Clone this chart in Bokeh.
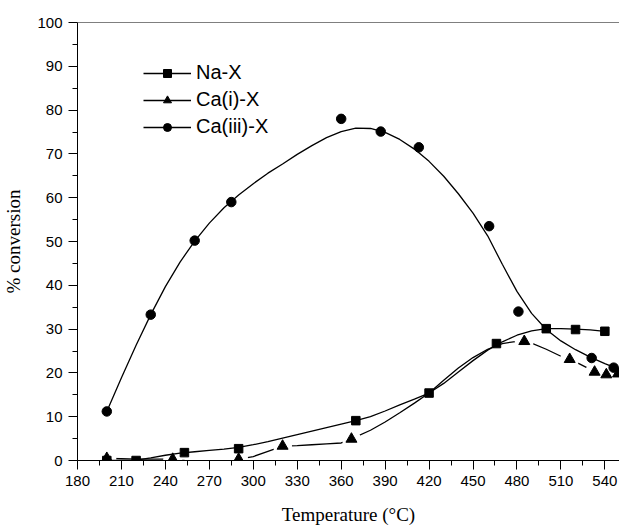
from bokeh.plotting import figure
from bokeh.models import Legend, LegendItem, Span, FixedTicker
from bokeh.embed import file_html
from bokeh.resources import INLINE

# ---- measured data points ----
temp_na = [200, 220, 253, 290, 370, 420, 466, 500, 520, 540]
conv_na = [0.0, 0.0, 1.8, 2.7, 9.1, 15.4, 26.7, 30.1, 29.9, 29.5]

temp_ca1 = [200, 245, 290, 320, 367, 485, 516, 533, 541, 549]
conv_ca1 = [0.5, 0.3, 0.3, 3.3, 4.9, 27.2, 23.1, 20.2, 19.6, 19.8]

temp_ca3 = [200, 230, 260, 285, 360, 387, 413, 461, 481, 531, 546]
conv_ca3 = [11.2, 33.3, 50.2, 59.0, 78.0, 75.1, 71.5, 53.5, 34.0, 23.4, 21.2]

# ---- smoothed curves ----
curve_na_x = [200, 210, 220, 230, 240, 250, 260, 270, 280, 290, 300, 310, 320, 330, 340, 350,
              360, 370, 380, 390, 400, 410, 420, 430, 440, 450, 460, 470, 480, 490, 500, 510,
              520, 530, 540]
curve_na_y = [0.0, 0.0, 0.1, 0.6, 1.2, 1.7, 2.0, 2.3, 2.6, 3.0, 3.6, 4.3, 5.1, 5.9, 6.7, 7.5,
              8.3, 9.1, 10.0, 11.3, 12.7, 14.0, 15.4, 17.6, 20.2, 22.8, 25.2, 27.1, 28.6, 29.6,
              30.1, 30.1, 30.0, 29.8, 29.5]

curve_ca1_x = [200, 210, 220, 230, 240, 245, 250, 260, 270, 280, 290, 300, 310, 320, 330, 340,
               350, 360, 367, 370, 380, 390, 400, 410, 420, 430, 440, 450, 460, 470, 480, 485,
               490, 500, 510, 516, 520, 530, 533, 540, 549]
curve_ca1_y = [0.5, 0.4, 0.3, 0.3, 0.3, 0.3, 0.1, -0.2, -0.4, -0.4, 0.3, 0.9, 2.1, 3.3, 3.4,
               3.6, 3.8, 4.0, 4.9, 5.4, 6.9, 8.8, 10.9, 13.1, 15.4, 18.3, 21.1, 23.5, 25.4,
               26.7, 27.2, 27.2, 26.8, 25.4, 23.8, 23.1, 22.5, 20.8, 20.2, 19.6, 19.8]

curve_ca3_x = [200, 210, 220, 230, 240, 250, 260, 270, 280, 290, 300, 310, 320, 330, 340, 350,
               360, 370, 380, 390, 400, 410, 420, 430, 440, 450, 460, 470, 480, 490, 500, 510,
               520, 530, 540, 550]
curve_ca3_y = [11.2, 18.9, 26.3, 33.3, 39.7, 45.3, 50.1, 54.2, 57.7, 60.6, 63.2, 65.6, 67.7,
               69.9, 71.9, 73.7, 75.1, 75.9, 75.8, 74.9, 73.3, 71.1, 68.3, 64.9, 60.9, 56.5,
               51.3, 44.8, 38.6, 33.6, 29.9, 27.3, 25.3, 23.6, 22.1, 20.8]

x_ticks = [180, 210, 240, 270, 300, 330, 360, 390, 420, 450, 480, 510, 540]
x_minor = [195, 225, 255, 285, 315, 345, 375, 405, 435, 465, 495, 525]
y_ticks = [0, 10, 20, 30, 40, 50, 60, 70, 80, 90, 100]
y_minor = [5, 15, 25, 35, 45, 55, 65, 75, 85, 95]

p = figure(width=619, height=528, x_range=(180, 550), y_range=(0, 100),
           output_backend="svg", toolbar_location=None,
           min_border_left=76, min_border_right=0, min_border_top=22, min_border_bottom=68)
p.grid.visible = False
p.outline_line_color = None
p.background_fill_color = "white"
p.border_fill_color = "white"

for ax in (p.xaxis[0], p.yaxis[0]):
    ax.major_tick_in = 0
    ax.major_tick_out = 9
    ax.minor_tick_in = 0
    ax.minor_tick_out = 5
    ax.axis_line_color = "black"
    ax.major_tick_line_color = "black"
    ax.minor_tick_line_color = "black"
    ax.major_label_text_font = "Liberation Sans"
    ax.major_label_text_font_size = "15px"
    ax.major_label_text_color = "black"
    ax.axis_label_text_font = "Liberation Serif"
    ax.axis_label_text_font_size = "19px"
    ax.axis_label_text_font_style = "normal"
    ax.axis_label_text_color = "black"

p.xaxis.ticker = FixedTicker(ticks=x_ticks, minor_ticks=x_minor)
p.yaxis.ticker = FixedTicker(ticks=y_ticks, minor_ticks=y_minor)
p.xaxis.axis_label = "Temperature (°C)"
p.yaxis.axis_label = "% conversion"
p.xaxis.major_label_standoff = 6
p.yaxis.major_label_standoff = 6
p.xaxis.axis_label_standoff = 15
p.yaxis.axis_label_standoff = 10

p.add_layout(Span(location=100, dimension="width", line_color="black", line_width=1))

# Ca(i)-X line with gaps around markers
l_ca1 = p.line(curve_ca1_x, curve_ca1_y, line_color="black", line_width=1.3)
p.scatter(temp_ca1, conv_ca1, marker="circle", size=19, fill_color="white", line_color=None)
l_na = p.line(curve_na_x, curve_na_y, line_color="black", line_width=1.3)
l_ca3 = p.line(curve_ca3_x, curve_ca3_y, line_color="black", line_width=1.3)

m_na = p.scatter(temp_na, conv_na, marker="square", size=8.5, fill_color="black", line_color="black")
m_ca1 = p.scatter(temp_ca1, conv_ca1, marker="triangle", size=11, fill_color="black", line_color="black")
m_ca3 = p.scatter(temp_ca3, conv_ca3, marker="circle", size=9.5, fill_color="black", line_color="black")

legend = Legend(items=[
    LegendItem(label="Na-X", renderers=[l_na, m_na]),
    LegendItem(label="Ca(i)-X", renderers=[l_ca1, m_ca1]),
    LegendItem(label="Ca(iii)-X", renderers=[l_ca3, m_ca3]),
], location=(66, 322))
legend.background_fill_alpha = 0
legend.border_line_color = None
legend.padding = 0
legend.margin = 0
legend.spacing = 4
legend.glyph_width = 48
legend.glyph_height = 20
legend.label_height = 20
legend.label_standoff = 5
legend.label_text_font = "Liberation Sans"
legend.label_text_font_size = "20px"
legend.label_text_color = "black"
p.add_layout(legend)

open("out.html", "w").write(file_html(p, INLINE))
